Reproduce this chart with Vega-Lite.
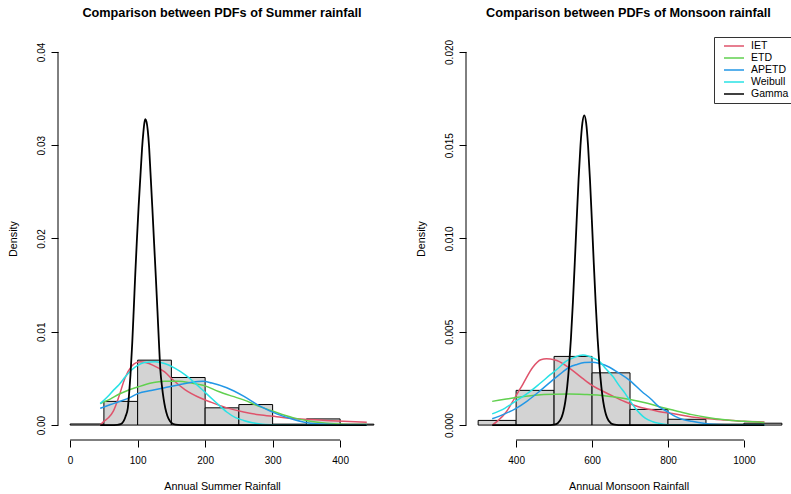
{
  "$schema": "https://vega.github.io/schema/vega-lite/v6.json",
  "background": "white",
  "padding": {"left": 7, "top": 6, "right": 0, "bottom": 2},
  "bounds": "flush",
  "spacing": 80,
  "config": {
    "view": {"stroke": null},
    "font": "Liberation Sans",
    "axis": {"domain": false, "grid": false, "tickColor": "black", "tickSize": 7, "tickWidth": 1, "labelFont": "Liberation Sans", "labelFontSize": 10, "labelColor": "black", "titleFont": "Liberation Sans", "titleFontSize": 10.8, "titleFontWeight": "normal", "titleColor": "black"},
    "axisY": {"labelAngle": -90, "labelAlign": "center", "labelBaseline": "bottom", "labelPadding": 5, "titlePadding": 18},
    "axisX": {"labelPadding": 8, "titlePadding": 15},
    "title": {"font": "Liberation Sans", "fontSize": 12.7, "fontWeight": "bold", "color": "black", "anchor": "middle", "baseline": "alphabetic", "offset": 17}
  },
  "datasets": {
    "sumHist": [
      {"start": 0, "end": 50, "density": 0.00012},
      {"start": 50, "end": 100, "density": 0.00254},
      {"start": 100, "end": 150, "density": 0.00696},
      {"start": 150, "end": 200, "density": 0.0051},
      {"start": 200, "end": 250, "density": 0.00185},
      {"start": 250, "end": 300, "density": 0.0022},
      {"start": 300, "end": 350, "density": 0.0001},
      {"start": 350, "end": 400, "density": 0.00066},
      {"start": 400, "end": 450, "density": 0.0001}
    ],
    "monHist": [
      {"start": 300, "end": 400, "density": 0.00025},
      {"start": 400, "end": 500, "density": 0.00186},
      {"start": 500, "end": 600, "density": 0.00368},
      {"start": 600, "end": 700, "density": 0.0028},
      {"start": 700, "end": 800, "density": 0.00084},
      {"start": 800, "end": 900, "density": 0.00031},
      {"start": 900, "end": 1000, "density": 0.00005},
      {"start": 1000, "end": 1100, "density": 0.0001}
    ],
    "sumPdf": [
      {"dist": "IET", "x": 44.5, "density": 0},
      {"dist": "IET", "x": 50, "density": 0.0004},
      {"dist": "IET", "x": 57, "density": 0.0008},
      {"dist": "IET", "x": 64, "density": 0.0015},
      {"dist": "IET", "x": 72, "density": 0.003},
      {"dist": "IET", "x": 81, "density": 0.005},
      {"dist": "IET", "x": 91, "density": 0.0063},
      {"dist": "IET", "x": 98, "density": 0.0067},
      {"dist": "IET", "x": 104, "density": 0.0068},
      {"dist": "IET", "x": 112, "density": 0.0067},
      {"dist": "IET", "x": 123, "density": 0.0064},
      {"dist": "IET", "x": 140, "density": 0.0057},
      {"dist": "IET", "x": 153, "density": 0.0048},
      {"dist": "IET", "x": 170, "density": 0.0038},
      {"dist": "IET", "x": 193, "density": 0.0029},
      {"dist": "IET", "x": 207, "density": 0.0025},
      {"dist": "IET", "x": 230, "density": 0.0019},
      {"dist": "IET", "x": 257, "density": 0.0014},
      {"dist": "IET", "x": 280, "density": 0.0011},
      {"dist": "IET", "x": 306, "density": 0.0009},
      {"dist": "IET", "x": 330, "density": 0.0007},
      {"dist": "IET", "x": 356, "density": 0.0006},
      {"dist": "IET", "x": 380, "density": 0.0005},
      {"dist": "IET", "x": 405, "density": 0.0004},
      {"dist": "IET", "x": 439.5, "density": 0.0003},
      {"dist": "ETD", "x": 44.5, "density": 0.0023},
      {"dist": "ETD", "x": 60, "density": 0.0028},
      {"dist": "ETD", "x": 72, "density": 0.0033},
      {"dist": "ETD", "x": 85, "density": 0.0037},
      {"dist": "ETD", "x": 101, "density": 0.0041},
      {"dist": "ETD", "x": 120, "density": 0.0045},
      {"dist": "ETD", "x": 140, "density": 0.0047},
      {"dist": "ETD", "x": 160, "density": 0.0047},
      {"dist": "ETD", "x": 180, "density": 0.0045},
      {"dist": "ETD", "x": 200, "density": 0.0042},
      {"dist": "ETD", "x": 220, "density": 0.0036},
      {"dist": "ETD", "x": 240, "density": 0.0031},
      {"dist": "ETD", "x": 257, "density": 0.0027},
      {"dist": "ETD", "x": 280, "density": 0.002},
      {"dist": "ETD", "x": 300, "density": 0.0015},
      {"dist": "ETD", "x": 330, "density": 0.0008},
      {"dist": "ETD", "x": 356, "density": 0.0004},
      {"dist": "ETD", "x": 380, "density": 0.0002},
      {"dist": "ETD", "x": 405, "density": 0.0001},
      {"dist": "ETD", "x": 439.5, "density": 0.00005},
      {"dist": "APETD", "x": 44.5, "density": 0.0018},
      {"dist": "APETD", "x": 60, "density": 0.0022},
      {"dist": "APETD", "x": 72, "density": 0.0025},
      {"dist": "APETD", "x": 90, "density": 0.003},
      {"dist": "APETD", "x": 101, "density": 0.0034},
      {"dist": "APETD", "x": 120, "density": 0.0037},
      {"dist": "APETD", "x": 140, "density": 0.004},
      {"dist": "APETD", "x": 160, "density": 0.0043},
      {"dist": "APETD", "x": 180, "density": 0.0046},
      {"dist": "APETD", "x": 197, "density": 0.0047},
      {"dist": "APETD", "x": 210, "density": 0.0045},
      {"dist": "APETD", "x": 232, "density": 0.004},
      {"dist": "APETD", "x": 257, "density": 0.0031},
      {"dist": "APETD", "x": 282, "density": 0.002},
      {"dist": "APETD", "x": 306, "density": 0.0012},
      {"dist": "APETD", "x": 331, "density": 0.0006},
      {"dist": "APETD", "x": 356, "density": 0.0002},
      {"dist": "APETD", "x": 380, "density": 0.0001},
      {"dist": "APETD", "x": 405, "density": 0.00003},
      {"dist": "APETD", "x": 439.5, "density": 0},
      {"dist": "Weibull", "x": 44.5, "density": 0.0023},
      {"dist": "Weibull", "x": 55, "density": 0.003},
      {"dist": "Weibull", "x": 65, "density": 0.0038},
      {"dist": "Weibull", "x": 72, "density": 0.0043},
      {"dist": "Weibull", "x": 82, "density": 0.0052},
      {"dist": "Weibull", "x": 91, "density": 0.0059},
      {"dist": "Weibull", "x": 100, "density": 0.0064},
      {"dist": "Weibull", "x": 110, "density": 0.0067},
      {"dist": "Weibull", "x": 126, "density": 0.0068},
      {"dist": "Weibull", "x": 140, "density": 0.0066},
      {"dist": "Weibull", "x": 155, "density": 0.0061},
      {"dist": "Weibull", "x": 170, "density": 0.0054},
      {"dist": "Weibull", "x": 185, "density": 0.0045},
      {"dist": "Weibull", "x": 200, "density": 0.0035},
      {"dist": "Weibull", "x": 215, "density": 0.0025},
      {"dist": "Weibull", "x": 232, "density": 0.0014},
      {"dist": "Weibull", "x": 245, "density": 0.0008},
      {"dist": "Weibull", "x": 257, "density": 0.0005},
      {"dist": "Weibull", "x": 270, "density": 0.00025},
      {"dist": "Weibull", "x": 282, "density": 0.00012},
      {"dist": "Weibull", "x": 300, "density": 0.00004},
      {"dist": "Weibull", "x": 330, "density": 0},
      {"dist": "Weibull", "x": 439.5, "density": 0}
    ],
    "sumGamma": [
      {"dist": "Gamma", "x": 44.5, "density": 0},
      {"dist": "Gamma", "x": 60, "density": 0},
      {"dist": "Gamma", "x": 70, "density": 0.00003},
      {"dist": "Gamma", "x": 75, "density": 0.0001},
      {"dist": "Gamma", "x": 79, "density": 0.0004},
      {"dist": "Gamma", "x": 82, "density": 0.0009},
      {"dist": "Gamma", "x": 85.4, "density": 0.0018},
      {"dist": "Gamma", "x": 87.5, "density": 0.0035},
      {"dist": "Gamma", "x": 89.4, "density": 0.0054},
      {"dist": "Gamma", "x": 92, "density": 0.0088},
      {"dist": "Gamma", "x": 94.3, "density": 0.0125},
      {"dist": "Gamma", "x": 96.5, "density": 0.0162},
      {"dist": "Gamma", "x": 98.8, "density": 0.0197},
      {"dist": "Gamma", "x": 101.5, "density": 0.0235},
      {"dist": "Gamma", "x": 104.2, "density": 0.0268},
      {"dist": "Gamma", "x": 106.5, "density": 0.0296},
      {"dist": "Gamma", "x": 108.5, "density": 0.0314},
      {"dist": "Gamma", "x": 110, "density": 0.0324},
      {"dist": "Gamma", "x": 111.6, "density": 0.0328},
      {"dist": "Gamma", "x": 113.2, "density": 0.0325},
      {"dist": "Gamma", "x": 115, "density": 0.0316},
      {"dist": "Gamma", "x": 117, "density": 0.0298},
      {"dist": "Gamma", "x": 119, "density": 0.0271},
      {"dist": "Gamma", "x": 121.7, "density": 0.0234},
      {"dist": "Gamma", "x": 124.4, "density": 0.0195},
      {"dist": "Gamma", "x": 127, "density": 0.0158},
      {"dist": "Gamma", "x": 129.4, "density": 0.0122},
      {"dist": "Gamma", "x": 131.6, "density": 0.0088},
      {"dist": "Gamma", "x": 133.8, "density": 0.0058},
      {"dist": "Gamma", "x": 136, "density": 0.0042},
      {"dist": "Gamma", "x": 138.5, "density": 0.0028},
      {"dist": "Gamma", "x": 141, "density": 0.0018},
      {"dist": "Gamma", "x": 144, "density": 0.001},
      {"dist": "Gamma", "x": 148, "density": 0.0004},
      {"dist": "Gamma", "x": 153, "density": 0.0001},
      {"dist": "Gamma", "x": 160, "density": 0.00002},
      {"dist": "Gamma", "x": 170, "density": 0},
      {"dist": "Gamma", "x": 439.5, "density": 0}
    ],
    "monPdf": [
      {"dist": "IET", "x": 337, "density": 0},
      {"dist": "IET", "x": 350, "density": 0.0002},
      {"dist": "IET", "x": 374, "density": 0.0007},
      {"dist": "IET", "x": 395, "density": 0.0014},
      {"dist": "IET", "x": 418, "density": 0.0022},
      {"dist": "IET", "x": 444, "density": 0.0031},
      {"dist": "IET", "x": 465, "density": 0.0035},
      {"dist": "IET", "x": 480, "density": 0.00355},
      {"dist": "IET", "x": 500, "density": 0.0035},
      {"dist": "IET", "x": 514, "density": 0.0034},
      {"dist": "IET", "x": 530, "density": 0.0032},
      {"dist": "IET", "x": 550, "density": 0.0029},
      {"dist": "IET", "x": 575, "density": 0.0025},
      {"dist": "IET", "x": 602, "density": 0.0021},
      {"dist": "IET", "x": 630, "density": 0.0018},
      {"dist": "IET", "x": 655, "density": 0.00155},
      {"dist": "IET", "x": 687, "density": 0.00125},
      {"dist": "IET", "x": 720, "density": 0.001},
      {"dist": "IET", "x": 750, "density": 0.00085},
      {"dist": "IET", "x": 775, "density": 0.00073},
      {"dist": "IET", "x": 819, "density": 0.00059},
      {"dist": "IET", "x": 863, "density": 0.00043},
      {"dist": "IET", "x": 900, "density": 0.00035},
      {"dist": "IET", "x": 950, "density": 0.00027},
      {"dist": "IET", "x": 1000, "density": 0.0002},
      {"dist": "IET", "x": 1054, "density": 0.00016},
      {"dist": "ETD", "x": 337, "density": 0.00127},
      {"dist": "ETD", "x": 370, "density": 0.00138},
      {"dist": "ETD", "x": 400, "density": 0.00148},
      {"dist": "ETD", "x": 450, "density": 0.0016},
      {"dist": "ETD", "x": 500, "density": 0.00165},
      {"dist": "ETD", "x": 540, "density": 0.00166},
      {"dist": "ETD", "x": 580, "density": 0.00164},
      {"dist": "ETD", "x": 620, "density": 0.0016},
      {"dist": "ETD", "x": 660, "density": 0.0015},
      {"dist": "ETD", "x": 700, "density": 0.00137},
      {"dist": "ETD", "x": 740, "density": 0.0012},
      {"dist": "ETD", "x": 775, "density": 0.001},
      {"dist": "ETD", "x": 820, "density": 0.00077},
      {"dist": "ETD", "x": 863, "density": 0.00056},
      {"dist": "ETD", "x": 900, "density": 0.00042},
      {"dist": "ETD", "x": 950, "density": 0.00028},
      {"dist": "ETD", "x": 1000, "density": 0.0002},
      {"dist": "ETD", "x": 1054, "density": 0.00014},
      {"dist": "APETD", "x": 337, "density": 0.00034},
      {"dist": "APETD", "x": 370, "density": 0.0006},
      {"dist": "APETD", "x": 400, "density": 0.0009},
      {"dist": "APETD", "x": 430, "density": 0.0013},
      {"dist": "APETD", "x": 461, "density": 0.0018},
      {"dist": "APETD", "x": 490, "density": 0.0023},
      {"dist": "APETD", "x": 514, "density": 0.0027},
      {"dist": "APETD", "x": 540, "density": 0.0031},
      {"dist": "APETD", "x": 560, "density": 0.00325},
      {"dist": "APETD", "x": 580, "density": 0.00335},
      {"dist": "APETD", "x": 600, "density": 0.00337},
      {"dist": "APETD", "x": 620, "density": 0.0033},
      {"dist": "APETD", "x": 646, "density": 0.0031},
      {"dist": "APETD", "x": 670, "density": 0.0028},
      {"dist": "APETD", "x": 699, "density": 0.0024},
      {"dist": "APETD", "x": 731, "density": 0.0018},
      {"dist": "APETD", "x": 755, "density": 0.0014},
      {"dist": "APETD", "x": 775, "density": 0.001},
      {"dist": "APETD", "x": 800, "density": 0.0007},
      {"dist": "APETD", "x": 819, "density": 0.00047},
      {"dist": "APETD", "x": 840, "density": 0.0003},
      {"dist": "APETD", "x": 863, "density": 0.0002},
      {"dist": "APETD", "x": 898, "density": 0.00009},
      {"dist": "APETD", "x": 950, "density": 0.00002},
      {"dist": "APETD", "x": 1000, "density": 0},
      {"dist": "APETD", "x": 1054, "density": 0},
      {"dist": "Weibull", "x": 337, "density": 0.0006},
      {"dist": "Weibull", "x": 370, "density": 0.0009},
      {"dist": "Weibull", "x": 400, "density": 0.0013},
      {"dist": "Weibull", "x": 430, "density": 0.0017},
      {"dist": "Weibull", "x": 461, "density": 0.0022},
      {"dist": "Weibull", "x": 490, "density": 0.0027},
      {"dist": "Weibull", "x": 514, "density": 0.0031},
      {"dist": "Weibull", "x": 530, "density": 0.0034},
      {"dist": "Weibull", "x": 550, "density": 0.0036},
      {"dist": "Weibull", "x": 576, "density": 0.00376},
      {"dist": "Weibull", "x": 590, "density": 0.0037},
      {"dist": "Weibull", "x": 602, "density": 0.0036},
      {"dist": "Weibull", "x": 620, "density": 0.0034},
      {"dist": "Weibull", "x": 637, "density": 0.003},
      {"dist": "Weibull", "x": 655, "density": 0.0026},
      {"dist": "Weibull", "x": 672, "density": 0.0021},
      {"dist": "Weibull", "x": 687, "density": 0.0017},
      {"dist": "Weibull", "x": 700, "density": 0.0013},
      {"dist": "Weibull", "x": 714, "density": 0.0009},
      {"dist": "Weibull", "x": 727, "density": 0.0006},
      {"dist": "Weibull", "x": 740, "density": 0.00037},
      {"dist": "Weibull", "x": 760, "density": 0.00018},
      {"dist": "Weibull", "x": 775, "density": 0.0001},
      {"dist": "Weibull", "x": 800, "density": 0.00002},
      {"dist": "Weibull", "x": 850, "density": 0},
      {"dist": "Weibull", "x": 1054, "density": 0}
    ],
    "monGamma": [
      {"dist": "Gamma", "x": 337, "density": 0},
      {"dist": "Gamma", "x": 490, "density": 0},
      {"dist": "Gamma", "x": 499.5, "density": 0.00002},
      {"dist": "Gamma", "x": 509.5, "density": 0.0001},
      {"dist": "Gamma", "x": 519.5, "density": 0.0004},
      {"dist": "Gamma", "x": 524.5, "density": 0.00073},
      {"dist": "Gamma", "x": 529.5, "density": 0.00125},
      {"dist": "Gamma", "x": 534.5, "density": 0.00205},
      {"dist": "Gamma", "x": 539.5, "density": 0.00318},
      {"dist": "Gamma", "x": 544.5, "density": 0.00468},
      {"dist": "Gamma", "x": 549.5, "density": 0.00655},
      {"dist": "Gamma", "x": 554.5, "density": 0.0087},
      {"dist": "Gamma", "x": 559.5, "density": 0.01098},
      {"dist": "Gamma", "x": 564.5, "density": 0.01316},
      {"dist": "Gamma", "x": 569.5, "density": 0.01497},
      {"dist": "Gamma", "x": 574.5, "density": 0.01618},
      {"dist": "Gamma", "x": 579.5, "density": 0.0166},
      {"dist": "Gamma", "x": 584.5, "density": 0.01618},
      {"dist": "Gamma", "x": 589.5, "density": 0.01497},
      {"dist": "Gamma", "x": 594.5, "density": 0.01316},
      {"dist": "Gamma", "x": 599.5, "density": 0.01098},
      {"dist": "Gamma", "x": 604.5, "density": 0.0087},
      {"dist": "Gamma", "x": 609.5, "density": 0.00655},
      {"dist": "Gamma", "x": 614.5, "density": 0.00468},
      {"dist": "Gamma", "x": 619.5, "density": 0.00318},
      {"dist": "Gamma", "x": 624.5, "density": 0.00205},
      {"dist": "Gamma", "x": 629.5, "density": 0.00125},
      {"dist": "Gamma", "x": 634.5, "density": 0.00073},
      {"dist": "Gamma", "x": 639.5, "density": 0.0004},
      {"dist": "Gamma", "x": 649.5, "density": 0.0001},
      {"dist": "Gamma", "x": 659.5, "density": 0.00002},
      {"dist": "Gamma", "x": 670, "density": 0},
      {"dist": "Gamma", "x": 1054, "density": 0}
    ]
  },
  "hconcat": [
    {
      "width": 328,
      "height": 403,
      "title": "Comparison between PDFs of Summer rainfall",
      "layer": [
        {
          "data": {"name": "sumHist"},
          "mark": {"type": "rect", "fill": "#D3D3D3", "stroke": "black", "strokeWidth": 1},
          "encoding": {
            "x": {"field": "start", "type": "quantitative", "scale": {"domain": [-18, 468], "nice": false, "zero": false}, "axis": {"values": [0, 100, 200, 300, 400], "format": "d", "title": "Annual Summer Rainfall"}},
            "x2": {"field": "end"},
            "y": {"field": "density", "type": "quantitative", "scale": {"domain": [-0.0016, 0.0416], "nice": false, "zero": false}, "axis": {"values": [0, 0.01, 0.02, 0.03, 0.04], "format": ".2f", "title": "Density"}},
            "y2": {"datum": 0}
          }
        },
        {
          "data": {"values": [{}]},
          "mark": {"type": "rule", "color": "black", "strokeWidth": 1},
          "encoding": {"x": {"datum": -18}, "y": {"datum": 0}, "y2": {"datum": 0.04}}
        },
        {
          "data": {"values": [{}]},
          "mark": {"type": "rule", "color": "black", "strokeWidth": 1},
          "encoding": {"x": {"datum": 0}, "x2": {"datum": 400}, "y": {"datum": -0.0016}}
        },
        {
          "data": {"name": "sumPdf"},
          "mark": {"type": "line", "interpolate": "monotone", "strokeWidth": 1.5},
          "encoding": {
            "x": {"field": "x", "type": "quantitative"},
            "y": {"field": "density", "type": "quantitative"},
            "color": {"field": "dist", "type": "nominal", "scale": {"domain": ["IET", "ETD", "APETD", "Weibull", "Gamma"], "range": ["#DF536B", "#61D04F", "#2297E6", "#28E2E5", "#000000"]}, "legend": null}
          }
        },
        {
          "data": {"name": "sumGamma"},
          "mark": {"type": "line", "interpolate": "monotone", "strokeWidth": 1.8},
          "encoding": {
            "x": {"field": "x", "type": "quantitative"},
            "y": {"field": "density", "type": "quantitative"},
            "color": {"field": "dist", "type": "nominal", "legend": null}
          }
        }
      ]
    },
    {
      "width": 325,
      "height": 403,
      "title": "Comparison between PDFs of Monsoon rainfall",
      "layer": [
        {
          "data": {"name": "monHist"},
          "mark": {"type": "rect", "fill": "#D3D3D3", "stroke": "black", "strokeWidth": 1},
          "encoding": {
            "x": {"field": "start", "type": "quantitative", "scale": {"domain": [268, 1124], "nice": false, "zero": false}, "axis": {"values": [400, 600, 800, 1000], "format": "d", "title": "Annual Monsoon Rainfall"}},
            "x2": {"field": "end"},
            "y": {"field": "density", "type": "quantitative", "scale": {"domain": [-0.0008, 0.0208], "nice": false, "zero": false}, "axis": {"values": [0, 0.005, 0.01, 0.015, 0.02], "format": ".3f", "title": "Density"}},
            "y2": {"datum": 0}
          }
        },
        {
          "data": {"values": [{}]},
          "mark": {"type": "rule", "color": "black", "strokeWidth": 1},
          "encoding": {"x": {"datum": 268}, "y": {"datum": 0}, "y2": {"datum": 0.02}}
        },
        {
          "data": {"values": [{}]},
          "mark": {"type": "rule", "color": "black", "strokeWidth": 1},
          "encoding": {"x": {"datum": 400}, "x2": {"datum": 1000}, "y": {"datum": -0.0008}}
        },
        {
          "data": {"name": "monPdf"},
          "mark": {"type": "line", "interpolate": "monotone", "strokeWidth": 1.5},
          "encoding": {
            "x": {"field": "x", "type": "quantitative"},
            "y": {"field": "density", "type": "quantitative"},
            "color": {"field": "dist", "type": "nominal", "scale": {"domain": ["IET", "ETD", "APETD", "Weibull", "Gamma"], "range": ["#DF536B", "#61D04F", "#2297E6", "#28E2E5", "#000000"]},
              "legend": {"orient": "none", "legendX": 248, "legendY": 0, "title": null, "symbolType": "M-2,0H2", "symbolSize": 100, "symbolStrokeWidth": 1.5, "labelFontSize": 10.5, "labelFont": "Liberation Sans", "labelColor": "black", "padding": 3, "symbolOffset": 11, "labelOffset": 11, "strokeColor": "#333333", "fillColor": "white", "rowPadding": 0, "labelLimit": 0}}
          }
        },
        {
          "data": {"name": "monGamma"},
          "mark": {"type": "line", "interpolate": "monotone", "strokeWidth": 1.8},
          "encoding": {
            "x": {"field": "x", "type": "quantitative"},
            "y": {"field": "density", "type": "quantitative"},
            "color": {"field": "dist", "type": "nominal"}
          }
        }
      ]
    }
  ],
  "resolve": {"legend": {"color": "independent"}}
}
